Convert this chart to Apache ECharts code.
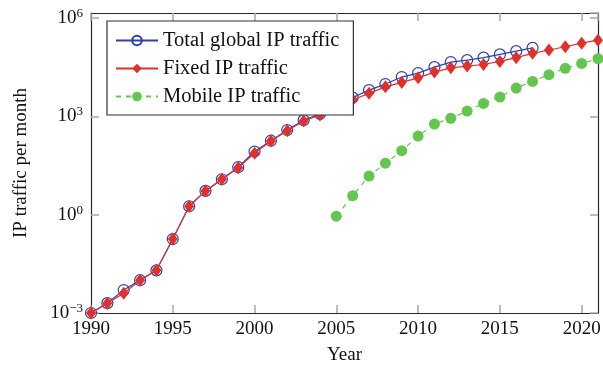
<!DOCTYPE html>
<html>
<head>
<meta charset="utf-8">
<script src="https://cdn.jsdelivr.net/npm/echarts@6/dist/echarts.min.js"></script>
<style>
  html, body { margin: 0; padding: 0; background: #fff; }
  #chart { width: 603px; height: 365px; }
</style>
</head>
<body>
<div id="chart"></div>
<script>
// Monthly IP traffic, 1990-2021 (log scale)
const years = [1990, 1991, 1992, 1993, 1994, 1995, 1996, 1997, 1998, 1999,
               2000, 2001, 2002, 2003, 2004, 2005, 2006, 2007, 2008, 2009,
               2010, 2011, 2012, 2013, 2014, 2015, 2016, 2017, 2018, 2019,
               2020, 2021];

// Total global IP traffic, 1990-2017
const totalTraffic = [0.001, 0.002, 0.005, 0.01, 0.02, 0.18, 1.8, 5.3, 12, 28,
                      84, 180, 380, 760, 1170, 2300, 3700, 6300, 9600, 15700,
                      20800, 31600, 45000, 51700, 61500, 77000, 97000, 122000];

// Fixed IP traffic, 1990-2021
const fixedTraffic = [0.001, 0.002, 0.004, 0.01, 0.02, 0.18, 1.8, 5.3, 12, 27,
                      75, 175, 360, 720, 1100, 2050, 3200, 5000, 7900, 10800,
                      14900, 22300, 30000, 34000, 38000, 47000, 61500, 83000, 105000, 132000,
                      170000, 210000];

// Mobile IP traffic, 2005-2021
const mobileStartYear = 2005;
const mobileTraffic = [0.9, 3.8, 15, 37, 89, 250, 580, 870, 1440, 2470,
                       3870, 7240, 11600, 18500, 29000, 41000, 57000];

// Decade exponents that carry a label on the value axis
const yTickExponents = [-3, 0, 3, 6];
const yMin = 1e-3;
const yMax = Math.pow(10, 6.15);

const seriesNames = ['Total global IP traffic', 'Fixed IP traffic', 'Mobile IP traffic'];

const pairs = (xs, ys) => ys.map((v, i) => [xs[i], v]);
const mobileYears = years.filter(y => y >= mobileStartYear);

const FONT = 'Liberation Serif';
const frameColor = '#2a2a2a';
const tickStyle = { show: true, inside: true, length: 8, lineStyle: { color: '#a8a8a8', width: 1.5 } };

function yLabel(value) {
  const e = Math.round(Math.log10(value));
  if (Math.abs(Math.log10(value) - e) > 1e-6 || yTickExponents.indexOf(e) < 0) return '';
  const sup = e < 0 ? '\u2212' + (-e) : String(e);
  return '{b|10}{s|' + sup + '}';
}

const chart = echarts.init(document.getElementById('chart'), null, { renderer: 'canvas' });

const xAxisBase = {
  type: 'value', min: 1990, max: 2021, interval: 5,
  axisLine: { show: true, lineStyle: { color: frameColor, width: 1.2 } },
  axisTick: tickStyle,
  splitLine: { show: false }
};
const yAxisBase = {
  type: 'log', logBase: 10, min: yMin, max: yMax, interval: 3,
  axisLine: { show: true, lineStyle: { color: frameColor, width: 1.2 } },
  axisTick: tickStyle,
  minorTick: { show: false },
  splitLine: { show: false }
};

chart.setOption({
  animation: false,
  backgroundColor: '#fff',
  textStyle: { fontFamily: FONT },
  grid: { left: 91, right: 5, top: 13, bottom: 52, containLabel: false, outerBoundsMode: 'none' },
  xAxis: [
    Object.assign({}, xAxisBase, {
      position: 'bottom',
      name: 'Year', nameLocation: 'middle', nameGap: 33,
      nameTextStyle: { fontFamily: FONT, fontSize: 19, color: '#111' },
      axisLabel: {
        fontFamily: FONT, fontSize: 19, color: '#111', margin: 7, showMaxLabel: false,
        formatter: v => String(v)
      }
    }),
    Object.assign({}, xAxisBase, {
      position: 'top',
      axisLabel: { show: false }
    })
  ],
  yAxis: [
    Object.assign({}, yAxisBase, {
      position: 'left',
      name: 'IP traffic per month', nameLocation: 'middle', nameGap: 60,
      nameTextStyle: { fontFamily: FONT, fontSize: 19, color: '#111' },
      axisLabel: {
        fontFamily: FONT, color: '#111', margin: 8, showMaxLabel: false,
        formatter: yLabel,
        rich: {
          b: { fontFamily: FONT, fontSize: 19, color: '#111' },
          s: { fontFamily: FONT, fontSize: 13, color: '#111', padding: [0, 0, 9, 0] }
        }
      }
    }),
    Object.assign({}, yAxisBase, {
      position: 'right',
      axisLabel: { show: false }
    })
  ],
  legend: {
    left: 107, top: 21, orient: 'vertical',
    padding: [9, 14, 8, 8],
    itemGap: 7, itemWidth: 42, itemHeight: 12,
    backgroundColor: '#fff',
    borderColor: '#333', borderWidth: 1.2, borderRadius: 0,
    textStyle: { fontFamily: FONT, fontSize: 20.5, color: '#111' },
    data: seriesNames,
    z: 10
  },
  series: [
    {
      name: seriesNames[0], type: 'line',
      data: pairs(years, totalTraffic),
      symbol: 'circle', symbolSize: 11,
      lineStyle: { color: '#3040b0', width: 1.2 },
      itemStyle: { color: 'rgba(255,255,255,0)', borderColor: '#3040b0', borderWidth: 1.2 },
      z: 2
    },
    {
      name: seriesNames[1], type: 'line',
      data: pairs(years, fixedTraffic),
      symbol: 'diamond', symbolSize: [10, 13],
      lineStyle: { color: '#e0302a', width: 1.2 },
      itemStyle: { color: '#e0302a', borderWidth: 0 },
      z: 3
    },
    {
      name: seriesNames[2], type: 'line',
      data: pairs(mobileYears, mobileTraffic),
      symbol: 'circle', symbolSize: 11,
      lineStyle: { color: '#62c74c', width: 1.2, type: [5, 5] },
      itemStyle: { color: '#62c74c', borderWidth: 0 },
      z: 4
    }
  ]
});
</script>
</body>
</html>
